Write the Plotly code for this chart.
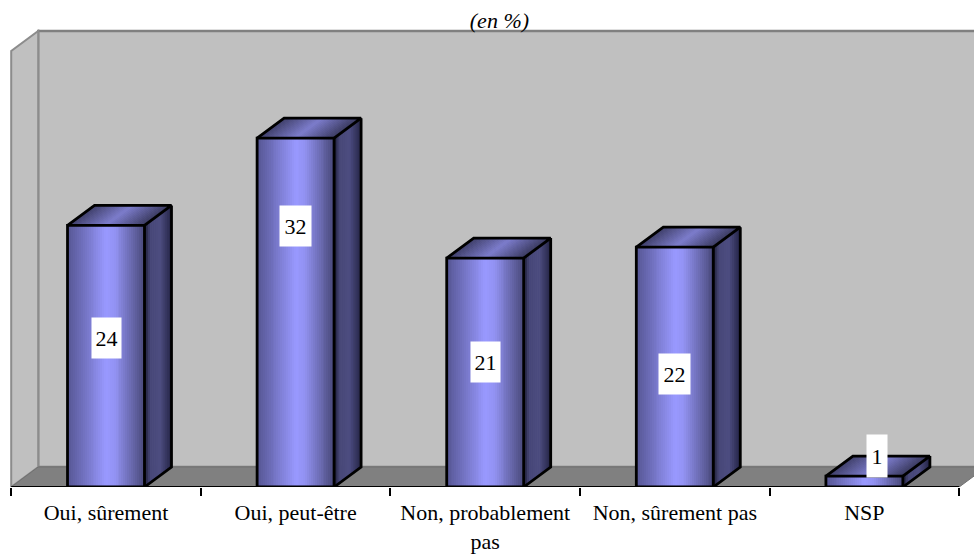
import numpy as np
import plotly.graph_objects as go

# Data
categories = ["Oui, sûrement", "Oui, peut-être", "Non, probablement<br>pas", "Non, sûrement pas", "NSP"]
values = [24, 32, 21, 22, 1]
value_labels = ["24", "32", "21", "22", "1"]
subtitle = "<i>(en %)</i>"

# Label placement (style)
label_y = [13.67, 23.9, 11.5, 10.4, 2.85]
label_xshift = [0, 0, 0, 0, 13]
label_w = [27, 29, 27, 29, 18]
label_h = [38, 38, 38, 38, 40]

# 3D style
W = 0.406      # bar width in category units
DX = 0.1424    # depth in x units
DY = 1.835     # depth in y units
YMAX = 40
FONT = "Liberation Serif"
FONT_SIZE = 22


def ramp(stops, t):
    ts = [s[0] for s in stops]
    rgb = [
        int(round(np.interp(t, ts, [s[1][c] for s in stops])))
        for c in range(3)
    ]
    return f"rgb({rgb[0]},{rgb[1]},{rgb[2]})"


FRONT = [(0, (0x55, 0x55, 0x92)), (0.5, (0x99, 0x99, 0xFF)), (0.62, (0x92, 0x92, 0xF2)), (1, (0x48, 0x48, 0x78))]
SIDE = [(0, (0x15, 0x15, 0x2A)), (0.22, (0x48, 0x48, 0x78)), (0.6, (0x4D, 0x4D, 0x80)), (1, (0x26, 0x26, 0x48))]
TOP = [(0, (0x3E, 0x3E, 0x68)), (0.5, (0x7C, 0x7C, 0xCC)), (1, (0x3A, 0x3A, 0x60))]

fig = go.Figure()
idx = list(range(len(categories)))

# Front faces: real bars, layered as narrow slices to build the gradient
NF = 40
sw = W / NF
for s in range(NF):
    fig.add_trace(go.Bar(
        x=idx, y=values, width=sw * 1.15, offset=-W / 2 + s * sw,
        marker=dict(color=ramp(FRONT, (s + 0.5) / NF), line=dict(width=0)),
        hoverinfo="skip", showlegend=False,
    ))

# Side faces
NS = 14
for s in range(NS):
    t0, t1 = s / NS, (s + 1) / NS
    xs, ys = [], []
    for i, v in zip(idx, values):
        xr = i + W / 2
        xs += [xr + t0 * DX, xr + t1 * DX, xr + t1 * DX, xr + t0 * DX, xr + t0 * DX, None]
        ys += [t0 * DY, t1 * DY, v + t1 * DY, v + t0 * DY, t0 * DY, None]
    c = ramp(SIDE, (s + 0.5) / NS)
    fig.add_trace(go.Scatter(x=xs, y=ys, mode="lines", fill="toself", fillcolor=c,
                             line=dict(color=c, width=1), hoverinfo="skip", showlegend=False))

# Top faces
NT = 30
for s in range(NT):
    t0, t1 = s / NT, (s + 1) / NT
    xs, ys = [], []
    for i, v in zip(idx, values):
        xl = i - W / 2
        a, b = xl + t0 * W, xl + t1 * W
        xs += [a, b, b + DX, a + DX, a, None]
        ys += [v, v, v + DY, v + DY, v, None]
    c = ramp(TOP, (s + 0.5) / NT)
    fig.add_trace(go.Scatter(x=xs, y=ys, mode="lines", fill="toself", fillcolor=c,
                             line=dict(color=c, width=1), hoverinfo="skip", showlegend=False))

# Bar outlines
xs, ys = [], []
for i, v in zip(idx, values):
    l, r = i - W / 2, i + W / 2
    xs += [l, r, r, l, l, None, l, l + DX, r + DX, r, None, r + DX, r + DX, r, None]
    ys += [0, 0, v, v, 0, None, v, v + DY, v + DY, v, None, v + DY, DY, 0, None]
fig.add_trace(go.Scatter(x=xs, y=ys, mode="lines", line=dict(color="black", width=2.8),
                         cliponaxis=False, hoverinfo="skip", showlegend=False))

# Category axis base line
fig.add_trace(go.Scatter(x=[-0.5, len(categories) - 0.5], y=[0, 0], mode="lines",
                         line=dict(color="black", width=2.2), cliponaxis=False,
                         hoverinfo="skip", showlegend=False))

# Walls and floor
L, R = -0.5, len(categories) - 0.5
GREY = "#C0C0C0"
EDGE = "#808080"
def poly(pts):
    return "M " + " L ".join(f"{a} {b}" for a, b in pts) + " Z"
shapes = [
    dict(type="path", xref="x", yref="y", layer="below", fillcolor=GREY,
         line=dict(color=EDGE, width=2.4),
         path=poly([(L + DX, DY), (R + DX, DY), (R + DX, YMAX + DY), (L + DX, YMAX + DY)])),
    dict(type="path", xref="x", yref="y", layer="below", fillcolor=GREY,
         line=dict(color="#8C8C8C", width=2),
         path=poly([(L, 0), (L + DX, DY), (L + DX, YMAX + DY), (L, YMAX)])),
    dict(type="path", xref="x", yref="y", layer="below", fillcolor=EDGE,
         line=dict(color="#707070", width=1),
         path=poly([(L, 0), (R, 0), (R + DX, DY), (L + DX, DY)])),
]

annotations = [
    dict(x=i, y=y, xref="x", yref="y", text=t, showarrow=False, xshift=xs_, bgcolor="white",
         width=w, height=h, align="center", valign="middle",
         font=dict(family=FONT, size=FONT_SIZE, color="black"))
    for i, y, t, xs_, w, h in zip(idx, label_y, value_labels, label_xshift, label_w, label_h)
]

fig.update_layout(
    width=974, height=554,
    autosize=False,
    margin=dict(l=10, r=0, t=0, b=67, autoexpand=False),
    paper_bgcolor="white", plot_bgcolor="white",
    barmode="overlay", bargap=0,
    showlegend=False,
    font=dict(family=FONT, size=FONT_SIZE, color="black"),
    title=dict(text=subtitle, x=494.5 / 974, y=1 - 20 / 554, xref="paper", yref="container",
               xanchor="center", yanchor="middle",
               font=dict(family=FONT, size=FONT_SIZE, color="black")),
    xaxis=dict(
        automargin=False,
        range=[(10 - 106.0) / 189.6, (974 - 106.0) / 189.6],
        tickmode="array", tickvals=idx, ticktext=categories,
        ticks="outside", ticklen=6, tickcolor="rgba(0,0,0,0)", tickwidth=1,
        tickangle=0, showline=False, showgrid=False, zeroline=False,
        tickfont=dict(family=FONT, size=FONT_SIZE, color="black"),
        minor=dict(tickmode="array", tickvals=[k - 0.5 for k in range(len(categories) + 1)],
                   ticks="outside", ticklen=8, tickwidth=2, tickcolor="black", showgrid=False),
    ),
    yaxis=dict(range=[0, 487 / 10.9], visible=False, fixedrange=True),
    shapes=shapes,
    annotations=annotations,
)

fig.write_html("out.html", config=dict(displayModeBar=False),
               post_script="document.body.style.margin='0';document.documentElement.style.overflow='hidden';")
